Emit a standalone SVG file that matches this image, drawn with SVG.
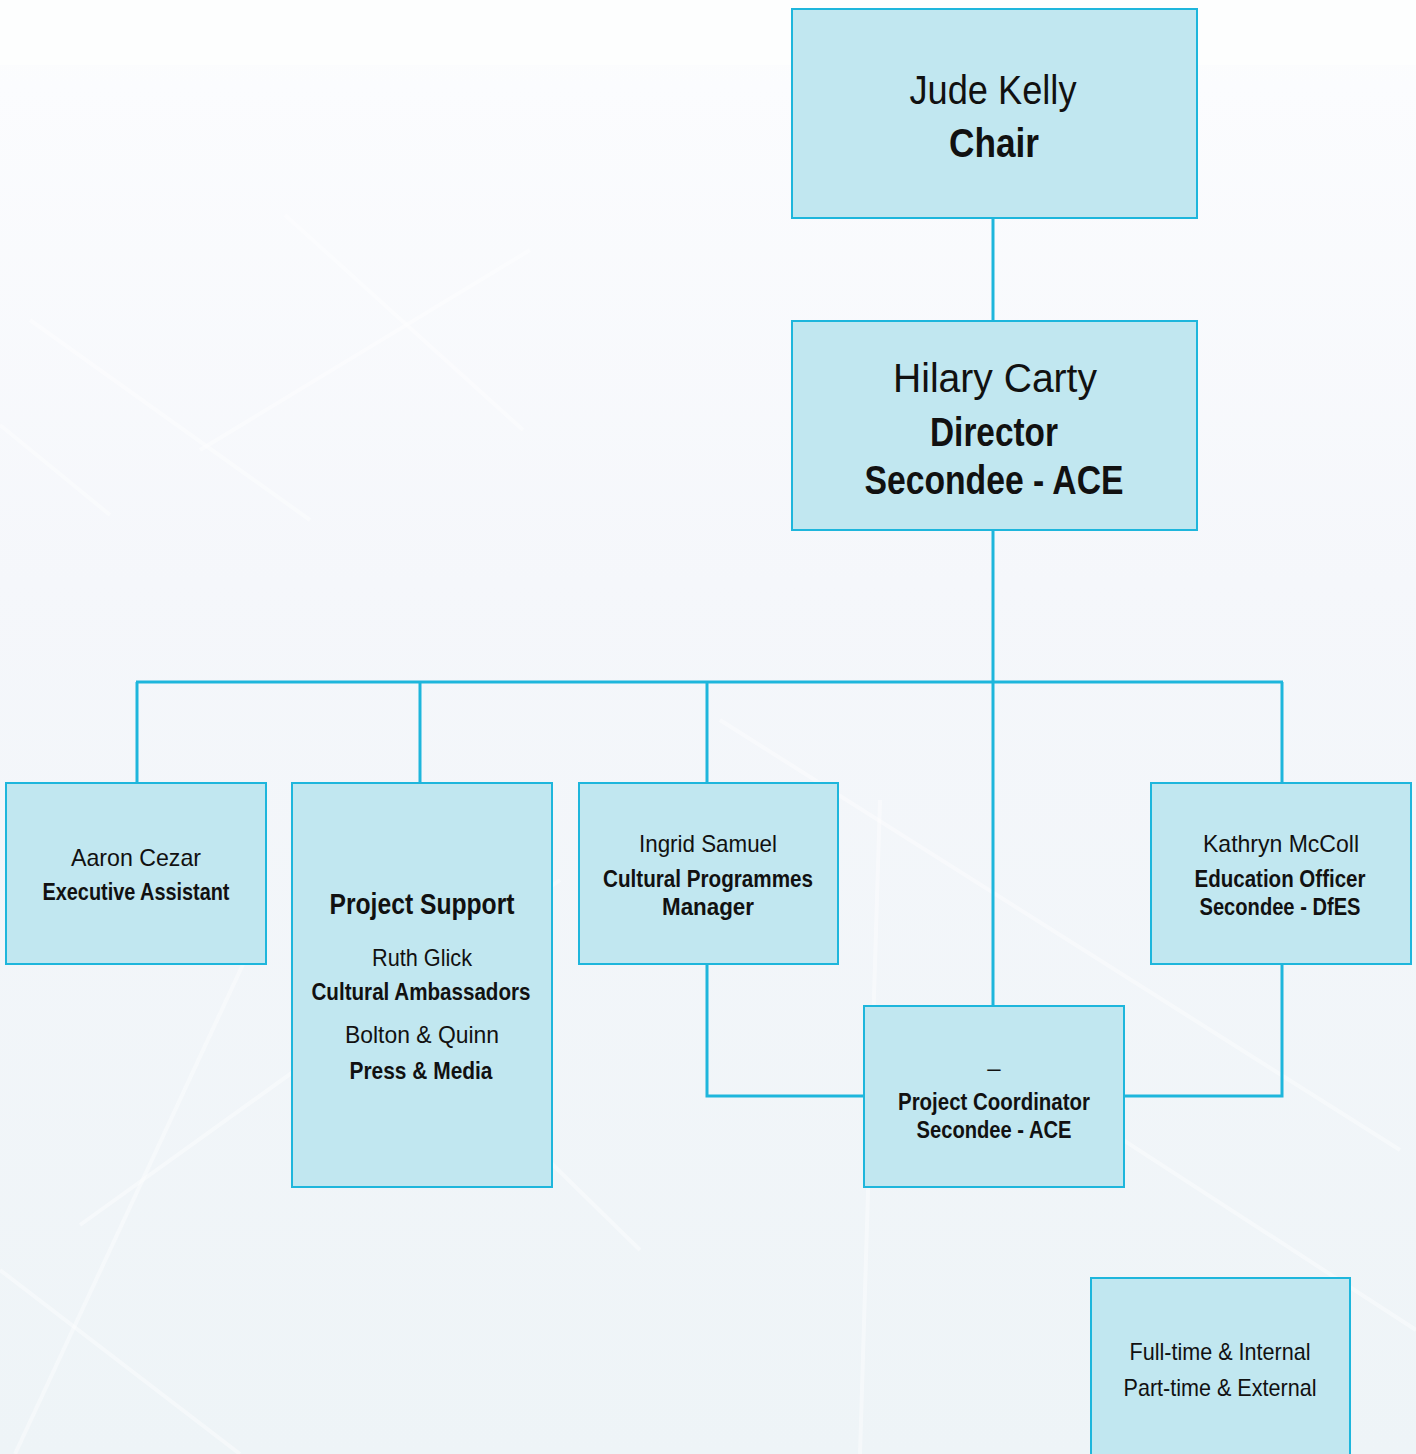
<svg xmlns="http://www.w3.org/2000/svg" width="1416" height="1454" viewBox="0 0 1416 1454">
  <defs>
    <linearGradient id="bg" x1="0" y1="0" x2="0" y2="1">
      <stop offset="0" stop-color="#fcfdfd"/>
      <stop offset="0.06" stop-color="#fbfcfe"/>
      <stop offset="0.4" stop-color="#f5f7fb"/>
      <stop offset="1" stop-color="#eef4f7"/>
    </linearGradient>
    <style>
      .box { fill: #c1e7f0; stroke: #1eb6dc; stroke-width: 2; }
      .link { fill: none; stroke: #1eb6dc; stroke-width: 3; }
      .deco { fill: none; stroke: #ffffff; stroke-width: 4; opacity: 0.4; }
      text { font-family: "Liberation Sans", Arial, sans-serif; fill: #111111; text-anchor: middle; }
      .n { font-weight: normal; }
      .b { font-weight: bold; }
    </style>
  </defs>

  <!-- page background -->
  <rect x="0" y="0" width="1416" height="1454" fill="url(#bg)"/>
  <rect x="0" y="0" width="1416" height="65" fill="#fdfefe"/>

  <!-- faint decorative streaks -->
  <g id="streaks">
    <line class="deco" x1="30" y1="320" x2="310" y2="520"/>
    <line class="deco" x1="0" y1="425" x2="110" y2="515"/>
    <line class="deco" x1="200" y1="450" x2="530" y2="250"/>
    <line class="deco" x1="285" y1="215" x2="523" y2="430"/>
    <line class="deco" x1="15" y1="1454" x2="245" y2="960"/>
    <line class="deco" x1="80" y1="1225" x2="560" y2="880"/>
    <line class="deco" x1="410" y1="1025" x2="640" y2="1250"/>
    <line class="deco" x1="720" y1="720" x2="1400" y2="1150"/>
    <line class="deco" x1="1000" y1="1060" x2="1416" y2="1330"/>
    <line class="deco" x1="880" y1="800" x2="860" y2="1454"/>
    <line class="deco" x1="0" y1="1270" x2="240" y2="1454"/>
  </g>

  <!-- connectors -->
  <g id="connectors">
    <line class="link" x1="993" y1="218" x2="993" y2="321"/>
    <line class="link" x1="993" y1="530" x2="993" y2="1006"/>
    <line class="link" x1="136" y1="682" x2="1283" y2="682"/>
    <line class="link" x1="137" y1="682" x2="137" y2="783"/>
    <line class="link" x1="420" y1="682" x2="420" y2="783"/>
    <line class="link" x1="707" y1="682" x2="707" y2="783"/>
    <line class="link" x1="1282" y1="682" x2="1282" y2="783"/>
    <polyline class="link" points="707,964 707,1096 864,1096"/>
    <polyline class="link" points="1282,964 1282,1096 1124,1096"/>
  </g>

  <g id="chair">
    <rect class="box" x="792" y="9" width="405" height="209"/>
    <text class="n" x="993" y="104" font-size="40" textLength="167" lengthAdjust="spacingAndGlyphs">Jude Kelly</text>
    <text class="b" x="994" y="157" font-size="40" textLength="90" lengthAdjust="spacingAndGlyphs">Chair</text>
  </g>

  <g id="director">
    <rect class="box" x="792" y="321" width="405" height="209"/>
    <text class="n" x="995" y="392" font-size="40" textLength="204" lengthAdjust="spacingAndGlyphs">Hilary Carty</text>
    <text class="b" x="994" y="446" font-size="40" textLength="128" lengthAdjust="spacingAndGlyphs">Director</text>
    <text class="b" x="994" y="494" font-size="40" textLength="259" lengthAdjust="spacingAndGlyphs">Secondee - ACE</text>
  </g>

  <g id="exec-assistant">
    <rect class="box" x="6" y="783" width="260" height="181"/>
    <text class="n" x="136" y="866" font-size="24" textLength="130" lengthAdjust="spacingAndGlyphs">Aaron Cezar</text>
    <text class="b" x="136" y="900" font-size="24" textLength="187" lengthAdjust="spacingAndGlyphs">Executive Assistant</text>
  </g>

  <g id="project-support">
    <rect class="box" x="292" y="783" width="260" height="404"/>
    <text class="b" x="422" y="914" font-size="29" textLength="185" lengthAdjust="spacingAndGlyphs">Project Support</text>
    <text class="n" x="422" y="966" font-size="24" textLength="100" lengthAdjust="spacingAndGlyphs">Ruth Glick</text>
    <text class="b" x="421" y="1000" font-size="24" textLength="219" lengthAdjust="spacingAndGlyphs">Cultural Ambassadors</text>
    <text class="n" x="422" y="1043" font-size="24" textLength="154" lengthAdjust="spacingAndGlyphs">Bolton &amp; Quinn</text>
    <text class="b" x="421" y="1079" font-size="24" textLength="143" lengthAdjust="spacingAndGlyphs">Press &amp; Media</text>
  </g>

  <g id="cultural-programmes">
    <rect class="box" x="579" y="783" width="259" height="181"/>
    <text class="n" x="708" y="852" font-size="24" textLength="138" lengthAdjust="spacingAndGlyphs">Ingrid Samuel</text>
    <text class="b" x="708" y="887" font-size="24" textLength="210" lengthAdjust="spacingAndGlyphs">Cultural Programmes</text>
    <text class="b" x="708" y="915" font-size="24" textLength="92" lengthAdjust="spacingAndGlyphs">Manager</text>
  </g>

  <g id="education-officer">
    <rect class="box" x="1151" y="783" width="260" height="181"/>
    <text class="n" x="1281" y="852" font-size="24" textLength="156" lengthAdjust="spacingAndGlyphs">Kathryn McColl</text>
    <text class="b" x="1280" y="887" font-size="24" textLength="171" lengthAdjust="spacingAndGlyphs">Education Officer</text>
    <text class="b" x="1280" y="915" font-size="24" textLength="161" lengthAdjust="spacingAndGlyphs">Secondee - DfES</text>
  </g>

  <g id="project-coordinator">
    <rect class="box" x="864" y="1006" width="260" height="181"/>
    <text class="n" x="994" y="1076" font-size="24">–</text>
    <text class="b" x="994" y="1110" font-size="24" textLength="192" lengthAdjust="spacingAndGlyphs">Project Coordinator</text>
    <text class="b" x="994" y="1138" font-size="24" textLength="155" lengthAdjust="spacingAndGlyphs">Secondee - ACE</text>
  </g>

  <g id="legend">
    <rect class="box" x="1091" y="1278" width="259" height="190"/>
    <text class="n" x="1220" y="1360" font-size="24" textLength="181" lengthAdjust="spacingAndGlyphs">Full-time &amp; Internal</text>
    <text class="n" x="1220" y="1396" font-size="24" textLength="193" lengthAdjust="spacingAndGlyphs">Part-time &amp; External</text>
  </g>
</svg>
